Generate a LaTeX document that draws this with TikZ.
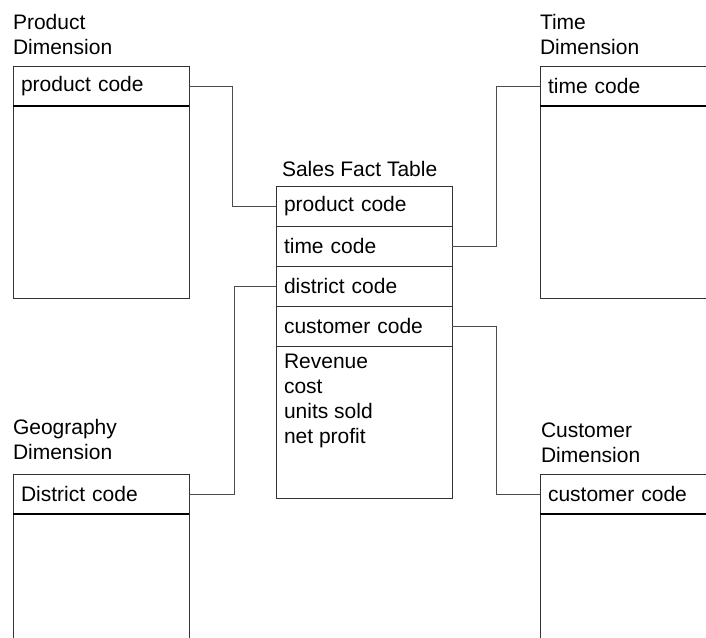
\documentclass[tikz,border=0pt]{standalone}
\usepackage{fontspec}
\setmainfont{Liberation Sans}
\usetikzlibrary{positioning}

\begin{document}
\begin{tikzpicture}[x=1pt, y=-1pt, line width=0.8pt, color=black!80,
      every node/.append style={font=\fontsize{21}{25}\selectfont, outer sep=0pt, text=black},
      field/.style={draw, rectangle, anchor=north west, minimum height=40pt,
        text width=160pt, inner xsep=8pt, align=left},
      body/.style={draw, rectangle, minimum width=176pt, minimum height=192pt},
      title/.style={inner sep=0pt, align=left},
      divider/.style={line width=1.1pt, color=black},
      link/.style={line width=0.7pt, color=black!70}]
    \clip (0,0) rectangle (706,637);

    % fact table
    \node (fprod) [field] at (276,186) {product code};
    \node (ftime) [field, below=0pt of fprod] {time code};
    \node (fdist) [field, below=0pt of ftime] {district code};
    \node (fcust) [field, below=0pt of fdist] {customer code};
    \node (fmeas) [draw, rectangle, inner sep=8pt, below=0pt of fcust]
      {\parbox[c][136pt][t]{160pt}{Revenue\\cost\\units sold\\net profit}};
    \node [title, above right=9pt and 6pt of fprod.north west] {Sales Fact Table};

    % dimensions
    \node (phead) [field] at (13,66) {product code};
    \node (pbody) [body, below=0pt of phead] {};
    \node [title, above right=11pt and 0pt of phead.north west] {Product\\Dimension};

    \node (thead) [field] at (540,66) {time code};
    \node (tbody) [body, below=0pt of thead] {};
    \node [title, above right=11pt and 0pt of thead.north west] {Time\\Dimension};

    \node (ghead) [field] at (13,474) {District code};
    \node (gbody) [body, below=0pt of ghead] {};
    \node [title, above right=14pt and 0pt of ghead.north west] {Geography\\Dimension};

    \node (chead) [field] at (540,474) {customer code};
    \node (cbody) [body, below=0pt of chead] {};
    \node [title, above right=11pt and 1pt of chead.north west] {Customer\\Dimension};

    \foreach \h in {phead,thead,ghead,chead}
      \draw [divider] (\h.south west) -- (\h.south east);

    % keys
    \draw [link] (phead.east) -- ++(43,0) |- (fprod.west);
    \draw [link] (ftime.east) -- ++(44,0) |- (thead.west);
    \draw [link] (ghead.east) -- ++(45,0) |- (fdist.west);
    \draw [link] (fcust.east) -- ++(44,0) |- (chead.west);
\end{tikzpicture}
\end{document}
